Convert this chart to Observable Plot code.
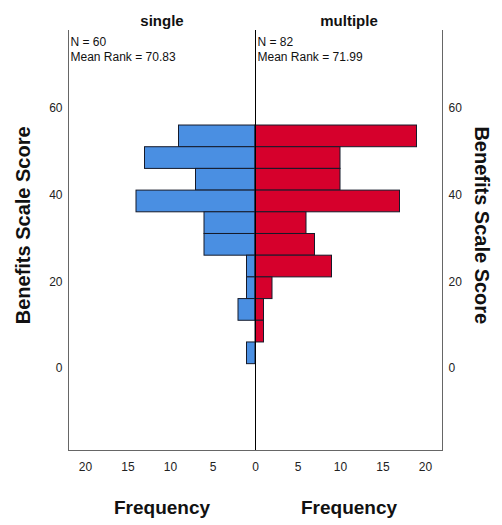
<!DOCTYPE html>
<html>
<head>
<meta charset="utf-8">
<script src="https://cdn.jsdelivr.net/npm/d3@7"></script>
<script src="https://cdn.jsdelivr.net/npm/@observablehq/plot@0.6"></script>
<style>
  body { margin: 0; background: white; }
</style>
</head>
<body>
<div id="chart"></div>
<script>
// Bins of Benefits Scale Score (lower edge), width 5, top to bottom
const binStart = [51, 46, 41, 36, 31, 26, 21, 16, 11, 6, 1];
const binWidth = 5;
const singleCounts   = [9, 13, 7, 14, 6, 6, 1, 1, 2, 0, 1];
const multipleCounts = [19, 10, 10, 17, 6, 7, 9, 2, 1, 1, 0];

const groupNames = ["single", "multiple"];
const groupCenters = [-11, 11];
const groupStats = ["N = 60\nMean Rank = 70.83", "N = 82\nMean Rank = 71.99"];
const xTicks = [-20, -15, -10, -5, 0, 5, 10, 15, 20];
const yTicks = [0, 20, 40, 60];
const yLabel = "Benefits Scale Score";
const xLabel = "Frequency";

const bars = [];
binStart.forEach((s, i) => {
  if (singleCounts[i] > 0) bars.push({group: "single", x1: -singleCounts[i], x2: 0, y1: s, y2: s + binWidth});
  if (multipleCounts[i] > 0) bars.push({group: "multiple", x1: 0, x2: multipleCounts[i], y1: s, y2: s + binWidth});
});

const chart = Plot.plot({
  width: 502,
  height: 525,
  marginLeft: 68,
  marginRight: 60,
  marginTop: 30,
  marginBottom: 75,
  style: {fontFamily: "'Liberation Sans', Arial, sans-serif", fontSize: "12px", color: "#222", background: "white"},
  x: {domain: [-22, 22]},
  y: {domain: [-18.9, 77.9]},
  color: {domain: ["single", "multiple"], range: ["#4a8fe2", "#d6002c"]},
  marks: [
    Plot.rect(bars, {x1: "x1", x2: "x2", y1: "y1", y2: "y2", fill: "group", stroke: "#151a2a", strokeWidth: 1}),
    Plot.ruleX([0], {stroke: "#000", strokeWidth: 1}),
    Plot.frame({anchor: "left", stroke: "#666"}),
    Plot.frame({anchor: "right", stroke: "#666"}),
    Plot.frame({anchor: "bottom", stroke: "#666"}),
    Plot.axisX({ticks: xTicks, tickFormat: d => Math.abs(d), tickSize: 0, tickPadding: 12, label: null, fontSize: 12}),
    Plot.axisY({anchor: "left", ticks: yTicks, tickSize: 0, tickPadding: 6, label: null}),
    Plot.axisY({anchor: "right", ticks: yTicks, tickSize: 0, tickPadding: 6, label: null}),
    Plot.text(groupNames, {x: (d, i) => groupCenters[i], text: d => d, frameAnchor: "top", dy: -15, fontWeight: "bold", fontSize: 15, fill: "#111"}),
    Plot.text(groupStats, {x: [-22, 0], text: d => d, frameAnchor: "top", textAnchor: "start", lineAnchor: "top", dx: 2, dy: 6, lineHeight: 1.17, fontSize: 12, fill: "#111"}),
    Plot.text(groupCenters, {x: d => d, text: () => xLabel, frameAnchor: "bottom", dy: 63, fontWeight: "bold", fontSize: 19, fill: "#111"}),
    Plot.text([yLabel], {x: -22, y: 33, text: d => d, dx: -45, rotate: -90, fontWeight: "bold", fontSize: 20, fill: "#111"}),
    Plot.text([yLabel], {x: 22, y: 33, text: d => d, dx: 39, rotate: 90, fontWeight: "bold", fontSize: 20, fill: "#111"})
  ]
});
document.getElementById("chart").appendChild(chart);
</script>
</body>
</html>
